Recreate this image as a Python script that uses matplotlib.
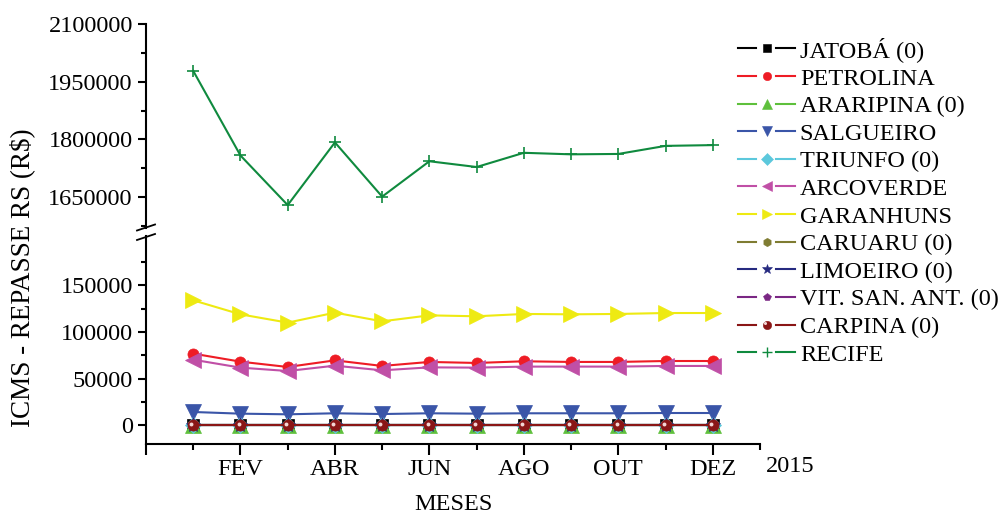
import matplotlib
matplotlib.use("Agg")
import matplotlib.pyplot as plt
from matplotlib.lines import Line2D
from matplotlib.legend_handler import HandlerBase
from matplotlib.transforms import ScaledTranslation, blended_transform_factory

plt.rcParams['font.family'] = ['Liberation Serif', 'DejaVu Serif']

# Months 1..12 of 2015
months = list(range(1, 13))
month_ticks = [2, 4, 6, 8, 10, 12]
month_labels = ['FEV', 'ABR', 'JUN', 'AGO', 'OUT', 'DEZ']
year_label = '2015'

zeros = [0] * 12
jatoba = zeros
petrolina = [76800, 68200, 62500, 69600, 63600, 67900, 66800, 68600, 67900, 67900, 68900, 68900]
araripina = zeros
salgueiro = [14300, 12500, 11800, 12900, 12100, 12900, 12500, 12900, 12900, 12900, 13200, 13200]
triunfo = zeros
arcoverde = [70300, 61800, 58200, 63900, 58900, 62100, 61800, 62900, 62900, 62900, 63600, 63600]
garanhuns = [133900, 118900, 110000, 120700, 111400, 117800, 116800, 119300, 118900, 119300, 120300, 120300]
caruaru = zeros
limoeiro = zeros
vit_san_ant = zeros
carpina = zeros
recife = [1978000, 1758000, 1629000, 1792000, 1651000, 1743000, 1728000, 1765000, 1761000, 1762000, 1783000, 1785000]

series = [
    ('JATOBÁ (0)', jatoba, '#000000', 's'),
    ('PETROLINA', petrolina, '#ee1c25', 'o'),
    ('ARARIPINA (0)', araripina, '#5ec03c', '^'),
    ('SALGUEIRO', salgueiro, '#3a55a8', 'v'),
    ('TRIUNFO (0)', triunfo, '#5cc8dc', 'D'),
    ('ARCOVERDE', arcoverde, '#c04fa6', '<'),
    ('GARANHUNS', garanhuns, '#eeea12', '>'),
    ('CARUARU (0)', caruaru, '#7f7c32', 'h'),
    ('LIMOEIRO (0)', limoeiro, '#262a80', '*'),
    ('VIT. SAN. ANT. (0)', vit_san_ant, '#7a2784', 'p'),
    ('CARPINA (0)', carpina, '#8a1616', 'o'),
    ('RECIFE', recife, '#0f8a3e', '+'),
]

W, H = 1003, 514
fig = plt.figure(figsize=(W / 100, H / 100), dpi=100)

def fx(px):
    return px / W

def fy(px):
    return 1 - px / H

left, right = 146, 760
ax_top = fig.add_axes([fx(left), fy(228), fx(right - left), (228 - 24) / H])
ax_bot = fig.add_axes([fx(left), fy(444), fx(right - left), (444 - 236) / H])

FS = 17.5
lw = 1.5

for ax in (ax_top, ax_bot):
    for name, vals, color, mk in series:
        ms = 11 if mk in ('^', 'v', '<', '>', '*') else 8
        if mk == '+':
            ms = 9
        ax.plot(months, vals, color=color, lw=lw, marker=mk, ms=ms,
                mfc=color, mec=color, mew=1.2 if mk == '+' else 0.5,
                label=name, clip_on=True)
        if name.startswith('CARPINA'):
            off = ScaledTranslation(-1.3 / 72, 1.3 / 72, fig.dpi_scale_trans)
            ax.plot(months, vals, ls='none', marker='o', ms=2.8, mfc='#f3d6d6',
                    mec='none', transform=ax.transData + off)
    ax.set_xlim(0, 13)
    for s in ('top', 'right'):
        ax.spines[s].set_visible(False)
    ax.spines['left'].set_linewidth(lw)
    ax.spines['bottom'].set_linewidth(lw)
    ax.tick_params(axis='both', which='major', length=6, width=lw,
                   direction='out', labelsize=FS, pad=3.5)
    ax.tick_params(axis='both', which='minor', length=3.5, width=lw,
                   direction='out')

# Upper panel (RECIFE range)
ax_top.set_ylim(1569400, 2100000)
ax_top.set_yticks([1650000, 1800000, 1950000, 2100000])
ax_top.set_yticks([1575000, 1725000, 1875000, 2025000], minor=True)
ax_top.set_yticklabels(['1650000', '1800000', '1950000', '2100000'])
ax_top.spines['bottom'].set_visible(False)
ax_top.tick_params(axis='x', which='both', bottom=False, labelbottom=False)

# Lower panel
ax_bot.set_ylim(-20000, 202800)
ax_bot.set_yticks([0, 50000, 100000, 150000])
ax_bot.set_yticks([25000, 75000, 125000, 175000], minor=True)
ax_bot.set_yticklabels(['0', '50000', '100000', '150000'])
ax_bot.set_xticks([0] + month_ticks)
ax_bot.set_xticklabels([''] + month_labels)
ax_bot.set_xticks([1, 3, 5, 7, 9, 11, 13], minor=True)
ax_bot.tick_params(axis='x', which='major', length=8, pad=3)
ax_bot.tick_params(axis='x', which='minor', length=4.5)
ax_bot.text(13.13, -0.058, year_label, fontsize=FS, ha='left', va='top',
            transform=blended_transform_factory(ax_bot.transData, ax_bot.transAxes))
ax_bot.set_xlabel('MESES', fontsize=FS, labelpad=10)

fig.text(fx(22), fy(278), 'ICMS - REPASSE RS (R$)', rotation=90,
         ha='center', va='center', fontsize=19.5)

# Axis break marks
for yc in (227.5, 237.0):
    fig.add_artist(Line2D([fx(137), fx(155)], [fy(yc + 3), fy(yc - 3)],
                          color='black', lw=1.3))


class GapHandler(HandlerBase):
    def create_artists(self, legend, orig_handle, xdescent, ydescent,
                       width, height, fontsize, trans):
        y = height / 2 - ydescent
        x0 = -xdescent
        color = orig_handle.get_color()
        a = Line2D([x0, x0 + 0.32 * width], [y, y], color=color, lw=lw)
        b = Line2D([x0 + 0.67 * width, x0 + width], [y, y], color=color, lw=lw)
        mk = orig_handle.get_marker()
        ms = 7 if mk in ('^', 'v', '<', '>', '*') else 6
        if mk == '+':
            ms = 7.5
        m = Line2D([x0 + 0.5 * width], [y], ls='none', marker=mk, ms=ms,
                   mfc=color, mec=color, mew=1.0 if mk == '+' else 0.4)
        arts = [a, b, m]
        if orig_handle.get_label().startswith('CARPINA'):
            h = Line2D([x0 + 0.5 * width - 1], [y + 1], ls='none', marker='o',
                       ms=2.2, mfc='#f3d6d6', mec='none')
            arts.append(h)
        for art in arts:
            art.set_transform(trans)
        return arts


handles = [h for h in ax_top.get_lines() if not h.get_label().startswith('_')]
leg = fig.legend(handles=handles, labels=[h.get_label() for h in handles],
                 loc='upper left', bbox_to_anchor=(fx(738), fy(37)),
                 frameon=False, fontsize=FS, borderpad=0, borderaxespad=0,
                 handlelength=57 / 24.3, handletextpad=0.2, labelspacing=0.23,
                 handler_map={Line2D: GapHandler()})

fig.savefig('out.png', dpi=100)
